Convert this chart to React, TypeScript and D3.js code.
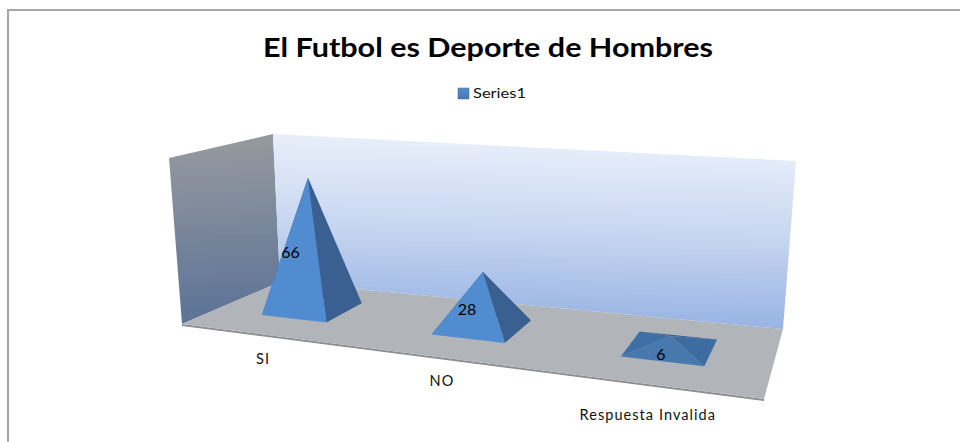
import React from "react";
import * as d3 from "d3";

const title = "El Futbol es Deporte de Hombres";
const seriesName = "Series1";
const categories = ["SI", "NO", "Respuesta Invalida"];
const values = [66, 28, 6];

const W = 960, H = 442;
type P = [number, number];
// Floor plane corners on screen: back-left, back-right, front-right, front-left
const floor: P[] = [[280, 282], [783, 329], [764, 399], [182, 324]];
const wallTopLeft: P = [273, 134];
const wallTopRight: P = [796, 161];
const sideTop: P = [169, 158];

function homography(q: P[]) {
  const [[x0, y0], [x1, y1], [x2, y2], [x3, y3]] = q;
  const dx1 = x1 - x2, dx2 = x3 - x2, sx = x0 - x1 + x2 - x3;
  const dy1 = y1 - y2, dy2 = y3 - y2, sy = y0 - y1 + y2 - y3;
  const den = dx1 * dy2 - dx2 * dy1;
  const g = (sx * dy2 - dx2 * sy) / den;
  const h = (dx1 * sy - sx * dy1) / den;
  const a = x1 - x0 + g * x1, b = x3 - x0 + h * x3;
  const d = y1 - y0 + g * y1, e = y3 - y0 + h * y3;
  return (u: number, v: number): P => {
    const w = g * u + h * v + 1;
    return [(a * u + b * v + x0) / w, (d * u + e * v + y0) / w];
  };
}
const floorAt = homography(floor);

const uScale = d3.scaleOrdinal<string, number>().domain(categories).range([0.183, 0.533, 0.849]);
const axisU = d3.scaleOrdinal<string, number>().domain(categories).range([0.185, 0.531, 0.849]);
const axisDrop = d3.scaleOrdinal<string, number>().domain(categories).range([30, 29, 36]);
const heightScale = d3.scaleLinear().domain([0, 66]).range([0, 131]);
const leanScale = d3.scaleLinear().domain([0, 1]).range([-0.06, 0.08]);
const halfUScale = d3.scaleLinear().domain([0.183, 0.849]).range([0.072, 0.061]);
const halfV = 0.205, depthV = 0.485;

const line = d3.line<P>().curve(d3.curveLinearClosed);
const labelShift: P[] = [[-22, 9], [-15, 10], [-9, 13]];

export default function App() {
  const pyramids = categories.map((c, i) => {
    const u = uScale(c);
    const halfU = halfUScale(u);
    const bl = floorAt(u - halfU, depthV - halfV);
    const br = floorAt(u + halfU, depthV - halfV);
    const fr = floorAt(u + halfU, depthV + halfV);
    const fl = floorAt(u - halfU, depthV + halfV);
    const base = floorAt(u, depthV);
    const h = heightScale(values[i]);
    const apex: P = [base[0] + leanScale(u) * h, base[1] - h];
    return { c, v: values[i], bl, br, fr, fl, apex, base, h, u };
  });

  return (
    <svg width={W} height={H} style={{ position: "absolute", left: 0, top: 0, fontFamily: "Lato, sans-serif" }}>
      <defs>
        <linearGradient id="back" gradientUnits="userSpaceOnUse" x1="530" y1="145" x2="525" y2="320">
          <stop offset="0" stopColor="#e7eefa" />
          <stop offset="0.5" stopColor="#c6d5f0" />
          <stop offset="1" stopColor="#99b4e4" />
        </linearGradient>
        <linearGradient id="side" gradientUnits="userSpaceOnUse" x1="220" y1="145" x2="230" y2="310">
          <stop offset="0" stopColor="#94989f" />
          <stop offset="1" stopColor="#5f7597" />
        </linearGradient>
        <linearGradient id="swatch" x1="0" y1="0" x2="0" y2="1">
          <stop offset="0" stopColor="#5a8cc8" />
          <stop offset="1" stopColor="#4577b2" />
        </linearGradient>
      </defs>

      <path d={"M8 446V10H960"} fill="none" stroke="#a6a6a6" strokeWidth={2} />

      <text x={488} y={57} textAnchor="middle" fontSize={26.5} fontWeight={700} fill="#000" textLength={450} lengthAdjust="spacingAndGlyphs">{title}</text>
      <rect x={458} y={88} width={11} height={11} fill="url(#swatch)" stroke="#3f6ea8" strokeWidth={0.5} />
      <text x={473} y={98} fontSize={13.5} fill="#111" textLength={53} lengthAdjust="spacingAndGlyphs">{seriesName}</text>

      <path d={line([sideTop, wallTopLeft, floor[0], floor[3]])!} fill="url(#side)" />
      <path d={line([wallTopLeft, wallTopRight, floor[1], floor[0]])!} fill="url(#back)" />
      <path d={line([floor[3], floor[2], [floor[2][0], floor[2][1] + 2], [floor[3][0], floor[3][1] + 2]])!} fill="#8b8e92" />
      <path d={line(floor)!} fill="#b1b4b8" />

      {pyramids.map((p) => {
        const small = p.v < 10;
        return (
          <g key={p.c}>
            <path d={line([p.bl, p.br, p.apex])!} fill="#355f8f" />
            <path d={line([p.bl, p.fl, p.apex])!} fill={small ? "#3f6fa5" : "#3a6396"} />
            <path d={line([p.br, p.fr, p.apex])!} fill={small ? "#3f6ca0" : "#3a6091"} />
            <path d={line([p.fl, p.fr, p.apex])!} fill={small ? "#4778ae" : "#528cd0"} />
          </g>
        );
      })}

      {pyramids.map((p, i) => (
        <text key={p.c} x={p.base[0] + labelShift[i][0]} y={p.base[1] - p.h / 2 + labelShift[i][1] + 5.5}
          textAnchor="middle" fontSize={16} fill="#000">{p.v}</text>
      ))}

      {categories.map((c) => {
        const [x, y] = floorAt(axisU(c), 1);
        return (
          <text key={c} x={x} y={y + axisDrop(c)} textAnchor="middle" fontSize={14.5} letterSpacing={1.05} fill="#111">{c}</text>
        );
      })}
    </svg>
  );
}
